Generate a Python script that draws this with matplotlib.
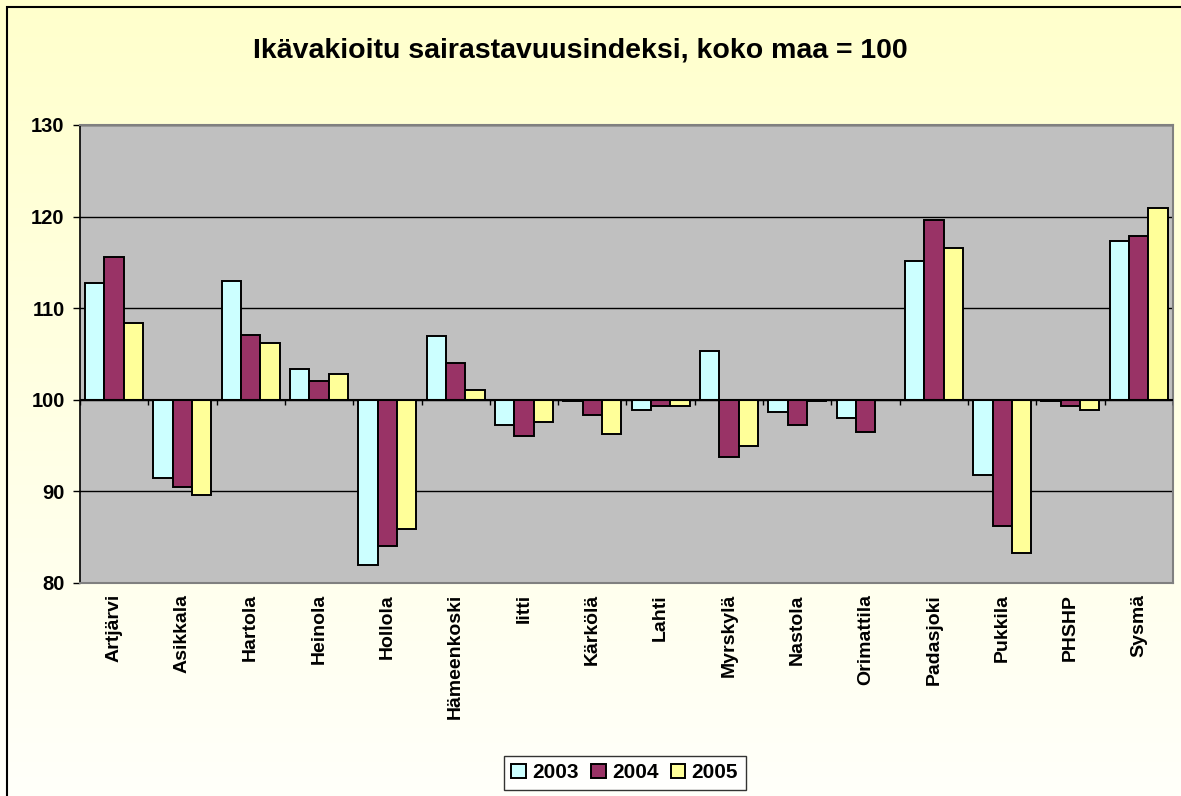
import numpy as np
import matplotlib.pyplot as plt
from matplotlib.patches import Rectangle

# data (index, whole country = 100)
kunnat = ["Artjärvi", "Asikkala", "Hartola", "Heinola", "Hollola", "Hämeenkoski",
          "Iitti", "Kärkölä", "Lahti", "Myrskylä", "Nastola", "Orimattila",
          "Padasjoki", "Pukkila", "PHSHP", "Sysmä"]
v2003 = [112.7, 91.5, 113.0, 103.4, 82.0, 107.0, 97.2, 99.9, 98.9, 105.3, 98.7, 98.0,
         115.1, 91.8, 99.9, 117.3]
v2004 = [115.6, 90.5, 107.1, 102.1, 84.0, 104.0, 96.1, 98.3, 99.3, 93.7, 97.3, 96.5,
         119.6, 86.2, 99.3, 117.9]
v2005 = [108.4, 89.6, 106.2, 102.8, 85.9, 101.1, 97.6, 96.3, 99.3, 95.0, 99.9, 100.0,
         116.6, 83.3, 98.9, 120.9]
vuodet = ["2003", "2004", "2005"]
varit = ["#CCFFFF", "#993366", "#FFFF99"]

plt.rcParams['font.family'] = ['Liberation Sans', 'DejaVu Sans']
plt.rcParams['font.weight'] = 'bold'

fig = plt.figure(figsize=(11.81, 7.96), dpi=100)

# background gradient, yellow at top fading to near white
bg = fig.add_axes([0, 0, 1, 1], zorder=-10)
grad = np.linspace(0, 1, 256).reshape(-1, 1)
top = np.array([1.0, 1.0, 0.80])
bot = np.array([1.0, 1.0, 0.98])
img = top + (bot - top) * grad[:, :, None]
bg.imshow(img, aspect='auto', extent=[0, 1, 0, 1])
bg.axis('off')

# outer frame (only left and top edges show in the reference)
fig.patches.append(Rectangle((6.5 / 1181, -0.1), 1.2, 1.1 - 6.5 / 796,
                             transform=fig.transFigure, fill=False,
                             edgecolor='black', linewidth=1.5))

ax = fig.add_axes([0.0677, 0.2676, 0.9255, 0.5754])
ax.set_facecolor("#C0C0C0")

x = np.arange(len(kunnat))
w = 0.283
for i, (vals, lab, c) in enumerate(zip([v2003, v2004, v2005], vuodet, varit)):
    vals = np.array(vals)
    ax.bar(x + (i - 1) * w, vals - 100, bottom=100, width=w, color=c,
           edgecolor='black', linewidth=1.4, label=lab, zorder=3)

ax.set_xlim(-0.5, len(kunnat) - 0.5)
ax.set_ylim(80, 130)
ax.set_yticks([80, 90, 100, 110, 120, 130])
ax.grid(axis='y', color='black', linewidth=1, zorder=1)
ax.axhline(100, color='black', linewidth=1.5, zorder=4)
# category separator ticks on the 100 line
ax.vlines(np.arange(len(kunnat) + 1) - 0.5, 99.4, 100, color='black',
          linewidth=1, zorder=4)

ax.set_xticks(x)
ax.set_xticklabels(kunnat, rotation=90, fontsize=14, fontweight='bold')
ax.tick_params(axis='x', length=0, pad=8)
ax.tick_params(axis='y', length=5, width=1, direction='out', labelsize=14.5, pad=6)
for lbl in ax.get_yticklabels():
    lbl.set_fontweight('bold')

for s in ['top', 'right', 'bottom']:
    ax.spines[s].set_color('#808080')
    ax.spines[s].set_linewidth(1.5)
ax.spines['left'].set_color('black')
ax.spines['left'].set_linewidth(1.2)

fig.text(0.491, 0.937, "Ikävakioitu sairastavuusindeksi, koko maa = 100",
         ha='center', va='center', fontsize=20.5, fontweight='bold')

leg = fig.legend(loc='center', bbox_to_anchor=(0.529, 0.029), ncol=3,
                 fontsize=15, frameon=True, fancybox=False, edgecolor='black',
                 handlelength=0.7, handleheight=0.7, handletextpad=0.3,
                 columnspacing=0.6, borderpad=0.35)
leg.get_frame().set_linewidth(1)
leg.get_frame().set_facecolor('white')
for t in leg.get_texts():
    t.set_fontweight('bold')

fig.savefig("out.png", dpi=100)
